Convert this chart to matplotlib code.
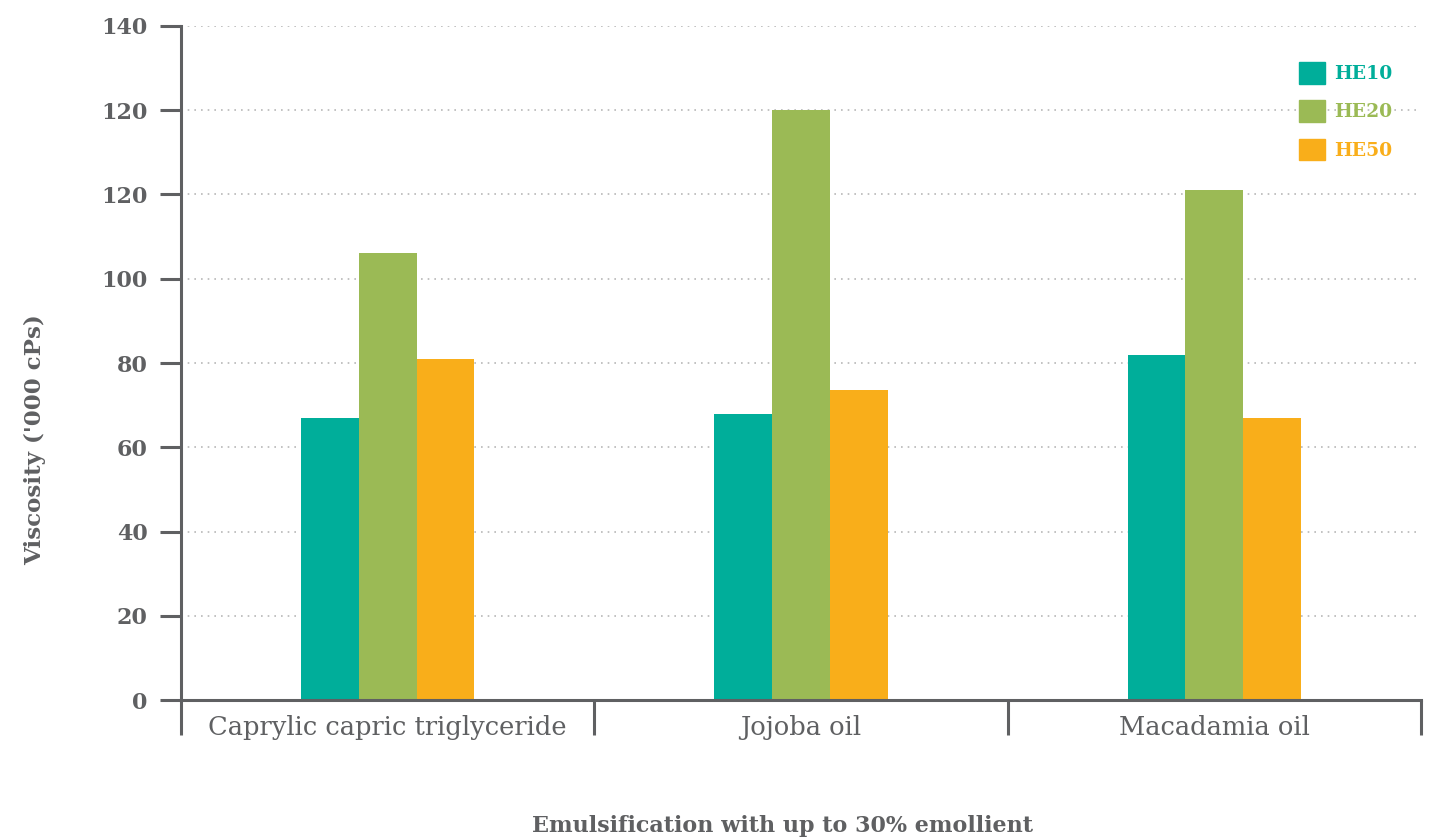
import numpy as np
import matplotlib
matplotlib.use("Agg")
import matplotlib.pyplot as plt
from matplotlib.patches import Patch

# data (real scale; the published tick labels repeat "120")
categories = ["Caprylic capric triglyceride", "Jojoba oil", "Macadamia oil"]
series = ["HE10", "HE20", "HE50"]
he10 = [67, 68, 82]
he20 = [106, 140, 121]
he50 = [81, 73.5, 67]
ytick_vals = [0, 20, 40, 60, 80, 100, 120, 140, 160]
ytick_labels = ["0", "20", "40", "60", "80", "100", "120", "120", "140"]

colors = ["#00ae9a", "#9bba55", "#f9ae1a"]
grey = "#5f6062"

plt.rcParams['font.family'] = ['DejaVu Serif', 'DejaVu Sans']

fig = plt.figure(figsize=(14.33, 8.38), dpi=100)
ax = fig.add_axes([181/1433, 1 - 700/838, (1421-181)/1433, (700-26)/838])

x = np.arange(len(categories))
w = 0.14
for i, (vals, c) in enumerate(zip([he10, he20, he50], colors)):
    ax.bar(x + (i - 1) * w, vals, width=w, color=c, zorder=2)

ax.set_xlim(-0.5, 2.5)
ax.set_ylim(0, 160)

ax.set_yticks(ytick_vals)
ax.set_yticklabels(ytick_labels, fontsize=16, fontweight='bold', color=grey)
ax.tick_params(axis='y', length=15, width=2.2, color=grey, pad=9)

ax.set_xticks(x)
ax.set_xticklabels(categories, fontsize=18.5, color=grey)
ax.set_xticks([-0.5, 0.5, 1.5, 2.5], minor=True)
ax.tick_params(axis='x', which='major', length=0, pad=11)
ax.tick_params(axis='x', which='minor', length=25, width=2.2, color=grey)

for s in ['top', 'right']:
    ax.spines[s].set_visible(False)
for s in ['left', 'bottom']:
    ax.spines[s].set_color(grey)
    ax.spines[s].set_linewidth(2.2)
    ax.spines[s].set_zorder(3)

ax.yaxis.grid(True, linestyle=(0, (1, 3)), color='#b8b8b8', linewidth=1.2)
ax.set_axisbelow(True)

fig.text(35/1433, 1 - 440/838, "Viscosity ('000 cPs)", rotation=90,
         ha='center', va='center', fontsize=16.5, fontweight='bold', color=grey)
fig.text(783/1433, 1 - 826/838, "Emulsification with up to 30% emollient",
         ha='center', va='center', fontsize=16, fontweight='bold', color=grey)

handles = [Patch(color=c, label=s) for s, c in zip(series, colors)]
leg = ax.legend(handles=handles, loc='upper left', bbox_to_anchor=(1299/1433, 1 - 62/838),
                bbox_transform=fig.transFigure, frameon=False, borderpad=0, borderaxespad=0,
                handlelength=1.4, handleheight=1.4, handletextpad=0.45,
                labelspacing=0.89, labelcolor=colors, prop={'weight': 'bold', 'size': 13.5})

fig.savefig("out.png", dpi=100)
